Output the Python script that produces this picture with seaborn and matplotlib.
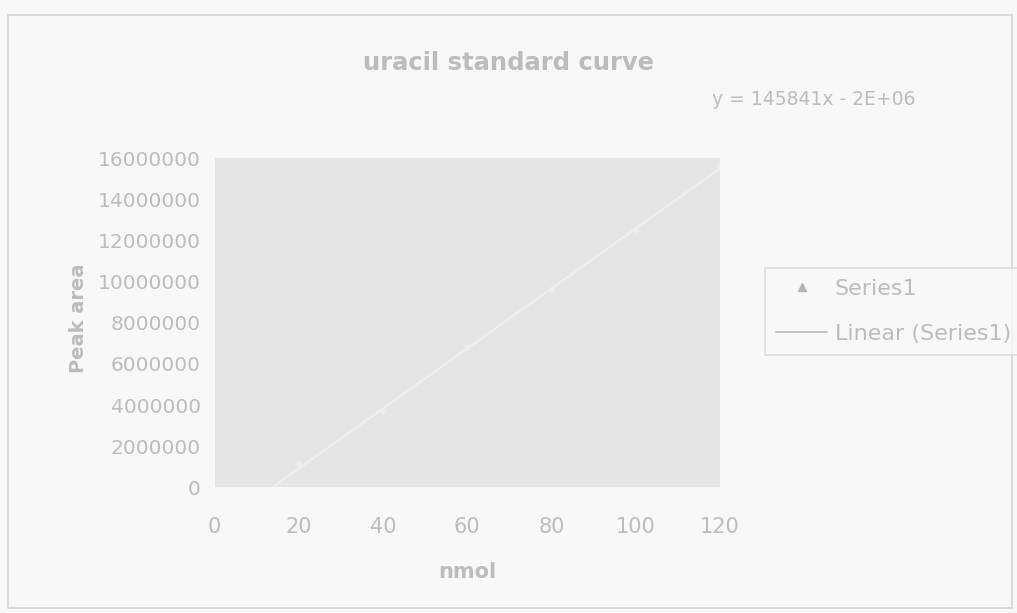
import numpy as np
import pandas as pd
import matplotlib
matplotlib.use("Agg")
import matplotlib.pyplot as plt
import matplotlib.patches as mpatches
from matplotlib.lines import Line2D
import seaborn as sns

# Standard curve measurements
amount_nmol = [20, 40, 60, 80, 100, 120]
peak_area = [1150000, 3700000, 6800000, 9600000, 12500000, 15600000]

# Linear trendline coefficients as reported on the chart
slope = 145841
intercept = -2.0e6

x_ticks = [0, 20, 40, 60, 80, 100, 120]
y_ticks = [0, 2000000, 4000000, 6000000, 8000000, 10000000, 12000000, 14000000, 16000000]

title = "uracil standard curve"
x_label = "nmol"
y_label = "Peak area"
series_name = "Series1"
trend_name = "Linear (Series1)"

sns.set_theme(style="white")
plt.rcParams["font.family"] = ["DejaVu Sans"]

text_col = "#bcbcbc"
line_col = "#d4d4d4"

fig = plt.figure(figsize=(10.17, 6.13), dpi=100)
fig.patch.set_facecolor("#f8f8f8")
ax = fig.add_axes([0.211, 0.205, 0.497, 0.537])
ax.set_facecolor("#e5e5e5")

df = pd.DataFrame({"x": amount_nmol, "y": peak_area})
sns.scatterplot(data=df, x="x", y="y", ax=ax, marker="D", s=16,
                color="#ececec", edgecolor="none", zorder=3)

trend_x = np.array([-intercept / slope, x_ticks[-1]], dtype=float)
trend = pd.DataFrame({"x": trend_x, "y": slope * trend_x + intercept})
sns.lineplot(data=trend, x="x", y="y", ax=ax, color="#eeeeee", linewidth=1.6, zorder=2)

ax.set_xlim(x_ticks[0], x_ticks[-1])
ax.set_ylim(y_ticks[0], y_ticks[-1])
ax.set_xticks(x_ticks)
ax.set_yticks(y_ticks)
ax.set_xticklabels([str(v) for v in x_ticks], color=text_col, fontsize=15)
ax.set_yticklabels([str(v) for v in y_ticks], color=text_col, fontsize=14.5)
ax.tick_params(axis="x", pad=21, length=0)
ax.tick_params(axis="y", pad=10, length=0)
for s in ax.spines.values():
    s.set_visible(False)

ax.set_xlabel(x_label, color=text_col, fontsize=15, fontweight="bold", labelpad=18)
ax.set_ylabel(y_label, color=text_col, fontsize=14, fontweight="bold")
ax.yaxis.set_label_coords(-0.25, 0.514)

fig.text(0.50, 0.897, title, ha="center", va="center", color=text_col,
         fontsize=17.5, fontweight="bold")
eq = f"y = {slope}x - {abs(intercept):.0E}"
fig.text(0.80, 0.837, eq, ha="center", va="center", color=text_col, fontsize=13.5)

handles = [
    Line2D([0], [0], marker="^", linestyle="none", color="#b4b4b4", markersize=6),
    Line2D([0], [0], color="#c2c2c2", linewidth=1.4),
]
leg = fig.legend(handles, [series_name, trend_name], loc="upper left",
                 bbox_to_anchor=(765 / 1017, 1 - 268 / 613), frameon=True,
                 fontsize=16, handlelength=2.3, handletextpad=0.35,
                 borderpad=0.5, labelspacing=1.1, fancybox=False,
                 borderaxespad=0)
leg.get_frame().set_edgecolor("#d6d6d6")
leg.get_frame().set_facecolor("#f8f8f8")
leg.get_frame().set_linewidth(1.2)
for t in leg.get_texts():
    t.set_color(text_col)

# Outer chart border
fig.patches.append(mpatches.Rectangle((0.008, 0.008), 0.987, 0.968,
                                      transform=fig.transFigure, fill=False,
                                      edgecolor=line_col, linewidth=1.2))

fig.savefig("out.png", dpi=100, facecolor=fig.get_facecolor())
